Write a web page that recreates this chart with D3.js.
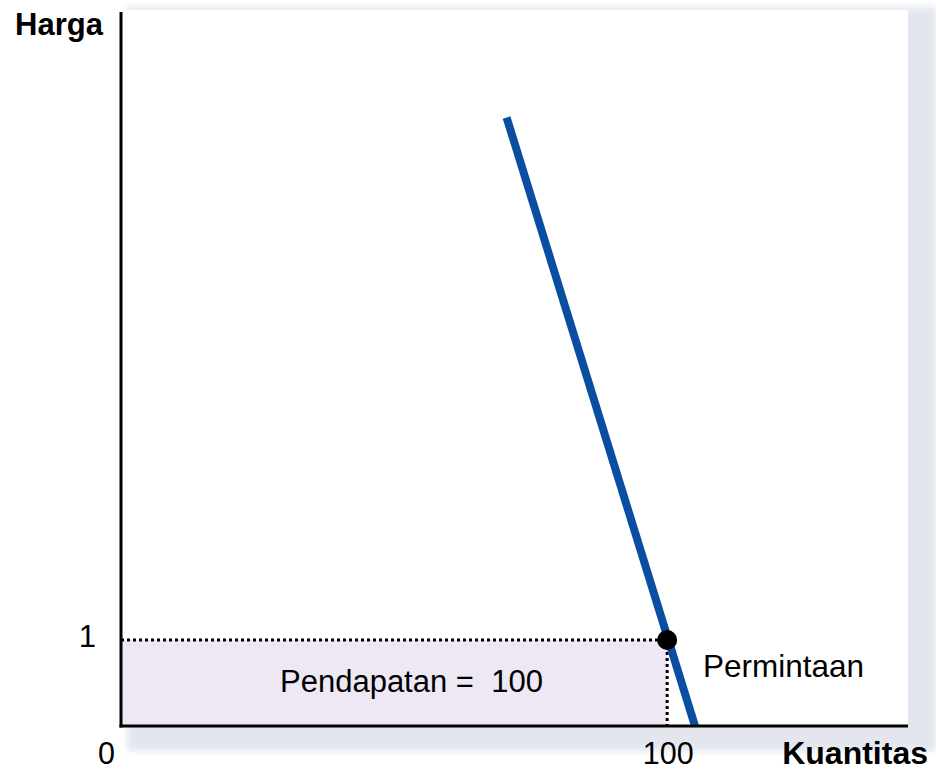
<!DOCTYPE html>
<html>
<head>
<meta charset="utf-8">
<script src="https://cdnjs.cloudflare.com/ajax/libs/d3/7.8.5/d3.min.js"></script>
<style>
  body { margin: 0; background: #fff; }
  text { font-family: "Liberation Sans", Arial, sans-serif; white-space: pre; }
</style>
</head>
<body>
<svg id="chart" width="936" height="771"></svg>
<script>
// demand curve endpoints (quantity, price)
const demand = [ {q: 70.6, p: 7.08}, {q: 105.1, p: 0} ];
const point = {q: 100, p: 1};
const revenue = 100;
const xTicks = [ {v: 0, label: '0'}, {v: 100, label: '100'} ];
const yTicks = [ {v: 1, label: '1'} ];

const svg = d3.select('#chart');
const pLeft = 121, pRight = 908, pTop = 10, pBottom = 726;

const x = d3.scaleLinear().domain([0, 144.1]).range([pLeft, pRight]);
const y = d3.scaleLinear().domain([0, 8.33]).range([pBottom, pTop]);

// shadow behind plot area
const defs = svg.append('defs');
defs.append('filter').attr('id', 'blur')
    .append('feGaussianBlur').attr('stdDeviation', 3);
svg.append('rect')
    .attr('x', pLeft + 6).attr('y', pTop - 3)
    .attr('width', pRight - pLeft + 22).attr('height', pBottom - pTop + 28)
    .attr('fill', '#e3e6ee')
    .attr('filter', 'url(#blur)');
svg.append('rect')
    .attr('x', pLeft).attr('y', pTop)
    .attr('width', pRight - pLeft).attr('height', pBottom - pTop)
    .attr('fill', '#fff');

// revenue box
svg.append('rect')
    .attr('x', x(0)).attr('y', y(point.p))
    .attr('width', x(point.q) - x(0)).attr('height', y(0) - y(point.p))
    .attr('fill', '#ede8f3');

// dotted guides
svg.append('path')
    .attr('d', d3.line()([[x(0), y(point.p)], [x(point.q), y(point.p)], [x(point.q), y(0)]]))
    .attr('fill', 'none')
    .attr('stroke', '#000')
    .attr('stroke-width', 3)
    .attr('stroke-dasharray', '3,3');

// demand line
svg.append('path')
    .datum(demand)
    .attr('d', d3.line().x(d => x(d.q)).y(d => y(d.p)))
    .attr('stroke', '#0a4ea2')
    .attr('stroke-width', 8)
    .attr('fill', 'none');

// axes
svg.append('line')
    .attr('x1', pLeft).attr('x2', pLeft).attr('y1', pTop + 2).attr('y2', pBottom + 1.5)
    .attr('stroke', '#000').attr('stroke-width', 3);
svg.append('line')
    .attr('x1', pLeft - 1.5).attr('x2', pRight).attr('y1', pBottom).attr('y2', pBottom)
    .attr('stroke', '#000').attr('stroke-width', 3);

svg.append('circle')
    .attr('cx', x(point.q)).attr('cy', y(point.p))
    .attr('r', 10)
    .attr('fill', '#000');

// tick labels
svg.selectAll('.xt').data(xTicks).enter().append('text')
    .attr('class', 'xt')
    .attr('x', d => d.v === 0 ? x(d.v) - 14.5 : x(d.v) + 1)
    .attr('y', 764)
    .attr('text-anchor', 'middle')
    .attr('font-size', 30.5)
    .text(d => d.label);
svg.selectAll('.yt').data(yTicks).enter().append('text')
    .attr('class', 'yt')
    .attr('x', 96)
    .attr('y', y(1) + 7)
    .attr('text-anchor', 'end')
    .attr('font-size', 31)
    .text(d => d.label);

svg.append('text')
    .attr('x', 15).attr('y', 35)
    .attr('font-size', 31).attr('font-weight', 'bold')
    .text('Harga');
svg.append('text')
    .attr('x', 928).attr('y', 764)
    .attr('text-anchor', 'end')
    .attr('font-size', 32).attr('font-weight', 'bold')
    .text('Kuantitas');
svg.append('text')
    .attr('x', 703).attr('y', 677)
    .attr('font-size', 31.5)
    .text('Permintaan');
svg.append('text')
    .attr('x', 280).attr('y', 692)
    .attr('font-size', 31)
    .text('Pendapatan =  ' + revenue);
</script>
</body>
</html>
